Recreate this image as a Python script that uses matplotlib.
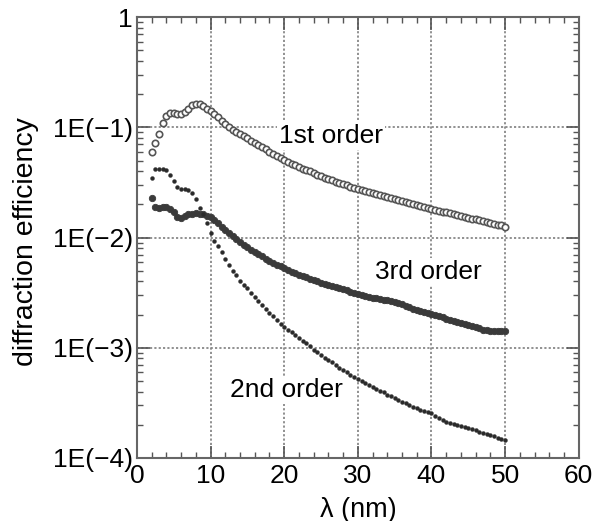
import numpy as np
import matplotlib
matplotlib.use("Agg")
import matplotlib.pyplot as plt
from matplotlib.ticker import FixedLocator, LogLocator, NullFormatter, MultipleLocator

plt.rcParams['font.family'] = ['Liberation Sans', 'DejaVu Sans']

wavelength = [2.0, 2.5, 3.0, 3.5, 4.0, 4.5, 5.0, 5.5, 6.0, 6.5, 7.0, 7.5, 8.0, 8.5, 9.0, 9.5,
              10.0, 10.5, 11.0, 11.5, 12.0, 12.5, 13.0, 13.5, 14.0, 14.5, 15.0, 15.5, 16.0, 16.5,
              17.0, 17.5, 18.0, 18.5, 19.0, 19.5, 20.0, 20.5, 21.0, 21.5, 22.0, 22.5, 23.0, 23.5,
              24.0, 24.5, 25.0, 25.5, 26.0, 26.5, 27.0, 27.5, 28.0, 28.5, 29.0, 29.5, 30.0, 30.5,
              31.0, 31.5, 32.0, 32.5, 33.0, 33.5, 34.0, 34.5, 35.0, 35.5, 36.0, 36.5, 37.0, 37.5,
              38.0, 38.5, 39.0, 39.5, 40.0, 40.5, 41.0, 41.5, 42.0, 42.5, 43.0, 43.5, 44.0, 44.5,
              45.0, 45.5, 46.0, 46.5, 47.0, 47.5, 48.0, 48.5, 49.0, 49.5, 50.0]

# log10 of diffraction efficiency
first_order_log10 = [-1.22, -1.14, -1.06, -0.96, -0.90, -0.87, -0.865, -0.875, -0.88, -0.86, -0.835, -0.80,
                     -0.785, -0.79, -0.81, -0.83, -0.85, -0.88, -0.91, -0.94, -0.97, -0.995, -1.02, -1.04,
                     -1.06, -1.08, -1.10, -1.12, -1.14, -1.16, -1.18, -1.20, -1.22, -1.24, -1.26, -1.28,
                     -1.30, -1.315, -1.33, -1.345, -1.36, -1.375, -1.39, -1.40, -1.415, -1.43, -1.44, -1.455,
                     -1.47, -1.48, -1.495, -1.505, -1.515, -1.525, -1.54, -1.55, -1.56, -1.57, -1.575, -1.585,
                     -1.595, -1.605, -1.615, -1.625, -1.63, -1.64, -1.65, -1.66, -1.67, -1.68, -1.685, -1.695,
                     -1.705, -1.715, -1.72, -1.73, -1.74, -1.75, -1.755, -1.765, -1.77, -1.78, -1.79, -1.795,
                     -1.805, -1.81, -1.82, -1.83, -1.835, -1.845, -1.85, -1.86, -1.87, -1.875, -1.885, -1.89, -1.90]

second_order_log10 = [-1.46, -1.38, -1.375, -1.38, -1.385, -1.43, -1.49, -1.54, -1.555, -1.56, -1.565, -1.60,
                      -1.65, -1.73, -1.79, -1.87, -1.96, -2.03, -2.08, -2.13, -2.19, -2.25, -2.30, -2.34,
                      -2.39, -2.43, -2.46, -2.50, -2.54, -2.575, -2.61, -2.645, -2.68, -2.715, -2.75, -2.78,
                      -2.81, -2.84, -2.86, -2.885, -2.91, -2.935, -2.96, -2.985, -3.02, -3.04, -3.065, -3.09,
                      -3.11, -3.13, -3.155, -3.18, -3.20, -3.22, -3.245, -3.265, -3.285, -3.30, -3.32, -3.335,
                      -3.355, -3.37, -3.39, -3.405, -3.425, -3.44, -3.46, -3.475, -3.49, -3.505, -3.52, -3.535,
                      -3.55, -3.565, -3.575, -3.585, -3.595, -3.62, -3.64, -3.655, -3.67, -3.68, -3.69, -3.70,
                      -3.71, -3.72, -3.73, -3.74, -3.75, -3.76, -3.77, -3.78, -3.795, -3.805, -3.815, -3.825, -3.835]

third_order_log10 = [-1.64, -1.72, -1.73, -1.725, -1.725, -1.74, -1.77, -1.81, -1.82, -1.80, -1.79, -1.785,
                     -1.78, -1.785, -1.79, -1.80, -1.815, -1.84, -1.87, -1.90, -1.93, -1.96, -1.99, -2.015,
                     -2.04, -2.07, -2.09, -2.11, -2.13, -2.15, -2.17, -2.19, -2.21, -2.23, -2.245, -2.26,
                     -2.28, -2.29, -2.31, -2.32, -2.34, -2.35, -2.36, -2.375, -2.385, -2.395, -2.41, -2.42,
                     -2.43, -2.44, -2.45, -2.46, -2.47, -2.48, -2.49, -2.50, -2.51, -2.52, -2.53, -2.54,
                     -2.545, -2.55, -2.56, -2.565, -2.57, -2.58, -2.585, -2.595, -2.605, -2.62, -2.63, -2.645,
                     -2.655, -2.665, -2.675, -2.685, -2.69, -2.70, -2.715, -2.725, -2.735, -2.745, -2.755, -2.765,
                     -2.775, -2.785, -2.795, -2.805, -2.815, -2.825, -2.835, -2.84, -2.845, -2.845, -2.845, -2.845, -2.845]

ytick_vals = [1e-4, 1e-3, 1e-2, 1e-1, 1]
ytick_labels = ["1E(\u22124)", "1E(\u22123)", "1E(\u22122)", "1E(\u22121)", "1"]
xtick_vals = [0, 10, 20, 30, 40, 50, 60]

fig = plt.figure(figsize=(6.06, 5.21), dpi=100)
ax = fig.add_axes([0.226, 0.121, 0.729, 0.846])

x = np.array(wavelength)
ax.plot(x, 10 ** np.array(first_order_log10), linestyle='none', marker='o', markersize=4.6,
        markerfacecolor='white', markeredgecolor='#555555', markeredgewidth=1.2, zorder=3)
ax.plot(x, 10 ** np.array(third_order_log10), linestyle='none', marker='o', markersize=4.6,
        markerfacecolor='#3a3a3a', markeredgecolor='#3a3a3a', markeredgewidth=0.6, zorder=3)
ax.plot(x, 10 ** np.array(second_order_log10), linestyle='none', marker='o', markersize=2.8,
        markerfacecolor='#2a2a2a', markeredgecolor='#2a2a2a', markeredgewidth=0.3, zorder=3)

ax.set_yscale('log')
ax.set_xlim(0, 60)
ax.set_ylim(1e-4, 1)
ax.yaxis.set_major_locator(FixedLocator(ytick_vals))
ax.set_yticklabels(ytick_labels)
ax.yaxis.set_minor_locator(LogLocator(base=10, subs=np.arange(2, 10)))
ax.yaxis.set_minor_formatter(NullFormatter())
ax.set_xticks(xtick_vals)
ax.xaxis.set_minor_locator(MultipleLocator(2))

ax.grid(True, which='major', linestyle=(0, (1.2, 1.2)), color='#888888', linewidth=1.3)
ax.tick_params(which='both', direction='in', top=True, right=True, colors='#555555',
               labelcolor='black', labelsize=19)
ax.tick_params(which='major', length=9, width=1.2, pad=3)
ax.tick_params(axis='x', which='major', pad=4.5)
ax.tick_params(which='minor', length=4, width=1.0)
for s in ax.spines.values():
    s.set_color('#666666')
    s.set_linewidth(1.5)

ax.set_xlabel("\u03bb (nm)", fontsize=19.5, labelpad=6)
ax.set_ylabel("diffraction efficiency", fontsize=20.5)
ax.yaxis.set_label_coords(-0.222, 0.49)

box = dict(facecolor='white', edgecolor='none', pad=1.5)
ax.text(26.4, 10 ** -1.08, "1st order", fontsize=19, ha='center', va='center', bbox=box, zorder=4)
ax.text(39.6, 10 ** -2.31, "3rd order", fontsize=19, ha='center', va='center', bbox=box, zorder=4)
ax.text(20.3, 10 ** -3.38, "2nd order", fontsize=19, ha='center', va='center', bbox=box, zorder=4)

fig.savefig("out.png", dpi=100)
